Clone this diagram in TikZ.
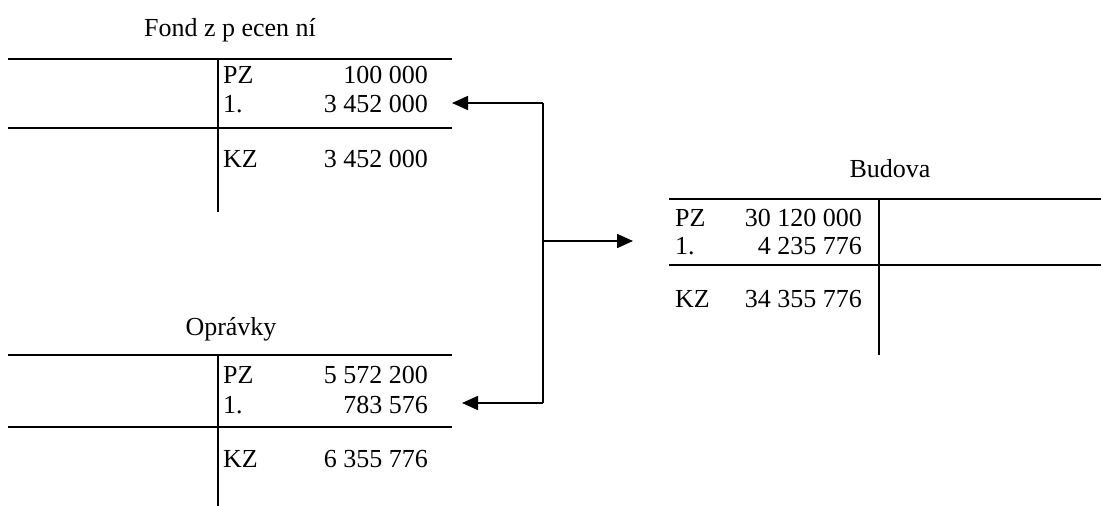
\documentclass[tikz,border=0pt]{standalone}
\usepackage{fontspec}
\setmainfont{Liberation Serif}
\usetikzlibrary{arrows.meta}
\begin{document}
\begin{tikzpicture}[x=1pt,y=-1pt,
 acc/.style={line width=1.6pt},
 lbl/.style={anchor=base west,inner sep=0pt,font=\fontsize{26}{30}\selectfont},
 num/.style={anchor=base east,inner sep=0pt,font=\fontsize{26}{30}\selectfont},
 ttl/.style={anchor=base,inner sep=0pt,font=\fontsize{26}{31}\selectfont},
 conn/.style={line width=1.6pt},
 arr/.style={conn,-{Triangle[length=16pt,width=14pt]}}]
\useasboundingbox (0,0) rectangle (1101,506);
% --- Fond z preceneni
\node[ttl] (fT) at (230,36) {Fond z p ecen ní};
\draw[acc] (8,59) -- (452,59);
\draw[acc] (8,128) -- (452,128);
\draw[acc] (218,59) -- (218,212);
\node[lbl] (fPZ) at (223,83) {PZ};
\node[num] (fPZv) at (428,83) {100 000};
\node[lbl] (f1) at (223,112) {1.};
\node[num] (f1v) at (428,112) {3 452 000};
\node[lbl] (fKZ) at (223,167) {KZ};
\node[num] (fKZv) at (428,167) {3 452 000};
% --- Opravky
\node[ttl] (oT) at (231,335) {Oprávky};
\draw[acc] (8,355) -- (452,355);
\draw[acc] (8,427) -- (452,427);
\draw[acc] (218,355) -- (218,506);
\node[lbl] (oPZ) at (223,383) {PZ};
\node[num] (oPZv) at (428,383) {5 572 200};
\node[lbl] (o1) at (223,413) {1.};
\node[num] (o1v) at (428,413) {783 576};
\node[lbl] (oKZ) at (223,467) {KZ};
\node[num] (oKZv) at (428,467) {6 355 776};
% --- Budova
\node[ttl] (bT) at (890,177) {Budova};
\draw[acc] (669,199) -- (1101,199);
\draw[acc] (669,265) -- (1101,265);
\draw[acc] (879,199) -- (879,355);
\node[lbl] (bPZ) at (675,226) {PZ};
\node[num] (bPZv) at (862,226) {30 120 000};
\node[lbl] (b1) at (675,254) {1.};
\node[num] (b1v) at (862,254) {4 235 776};
\node[lbl] (bKZ) at (675,307) {KZ};
\node[num] (bKZv) at (862,307) {34 355 776};
% --- connectors
\coordinate (j1) at (543,103);
\coordinate (j2) at (543,403);
\coordinate (j3) at (543,241);
\coordinate (t1) at (452,103);
\coordinate (t2) at (462,403);
\coordinate (t3) at (633,241);
\draw[conn] (j1) -- (j2);
\draw[arr] (j1) -- (t1);
\draw[arr] (j2) -- (t2);
\draw[arr] (j3) -- (t3);
\end{tikzpicture}
\end{document}
